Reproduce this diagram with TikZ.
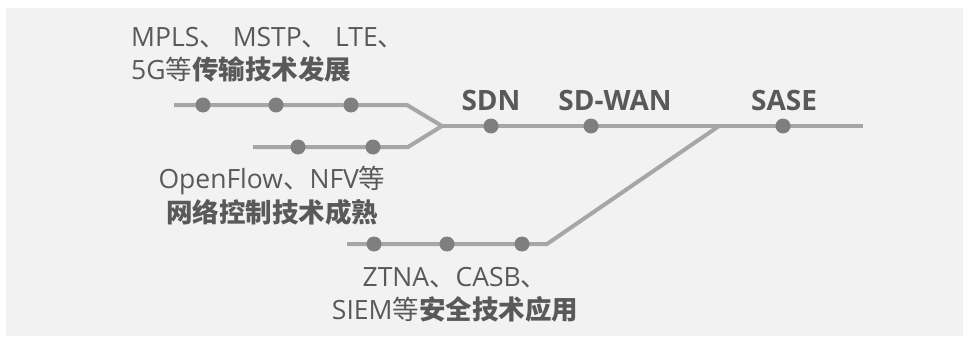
\documentclass[tikz,border=0pt]{standalone}
\usepackage{fontspec}
\setmainfont{Open Sans}
\newfontfamily\cjk{Noto Sans CJK SC}
\pgfdeclarelayer{back}
\pgfdeclarelayer{lines}
\pgfsetlayers{back,lines,main}
\definecolor{bgc}{HTML}{F2F2F2}
\definecolor{linec}{HTML}{A6A6A6}
\definecolor{dotc}{HTML}{7F7F7F}
\definecolor{txtc}{HTML}{595959}
\tikzset{
  dot/.style={circle,fill=dotc,draw=none,minimum size=15pt,inner sep=0pt},
  track/.style={draw=linec,line width=4pt,line join=miter},
  lbl/.style={text=txtc,inner sep=0pt,font=\fontsize{26.5}{33.5}\selectfont},
  stage/.style={text=txtc,inner sep=0pt,font=\fontsize{28}{30}\selectfont\bfseries},
}
\begin{document}
\begin{tikzpicture}[x=1pt,y=-1pt]
\useasboundingbox (0,0) rectangle (963,337);
\begin{pgfonlayer}{back}
\fill[bgc] (6,8) rectangle (963,336);
\end{pgfonlayer}
% coordinates
\coordinate (t0) at (174,105);
\coordinate (tb) at (407,105);
\coordinate (j1) at (442,126);
\coordinate (u0) at (253,147);
\coordinate (ub) at (408,147);
\coordinate (j2) at (719,126);
\coordinate (e) at (863,126);
\coordinate (w0) at (347,244);
\coordinate (wb) at (547,244);
% dots
\node[dot] (a1) at (203,105) {};
\node[dot] (a2) at (276,105) {};
\node[dot] (a3) at (351,105) {};
\node[dot] (b1) at (298,147) {};
\node[dot] (b2) at (373,147) {};
\node[dot] (sdn) at (491,126) {};
\node[dot] (sdwan) at (591,126) {};
\node[dot] (sase) at (783,126) {};
\node[dot] (c1) at (374,244) {};
\node[dot] (c2) at (447,244) {};
\node[dot] (c3) at (522,244) {};
% tracks
\begin{pgfonlayer}{lines}
\draw[track] (t0) -- (a1.center) -- (a2.center) -- (a3.center) -- (tb) -- (j1);
\draw[track] (u0) -- (b1.center) -- (b2.center) -- (ub) -- (j1);
\draw[track] (j1) -- (sdn.center) -- (sdwan.center) -- (j2) -- (sase.center) -- (e);
\draw[track] (w0) -- (c1.center) -- (c2.center) -- (c3.center) -- (wb) -- (j2);
\end{pgfonlayer}
% labels
\node[stage] (lsdn) at (491,100) {SDN};
\node[stage] (lsdwan) at (615,100) {SD-WAN};
\node[stage] (lsase) at (784,100) {SASE};
\node[lbl,align=left,anchor=west] (ltop) at (131,55) {MPLS{\cjk 、} MSTP{\cjk 、} LTE{\cjk 、}\\5G{\cjk 等}\textbf{\cjk 传输技术发展}};
\node[lbl,align=center] (lmid) at (272,196) {OpenFlow{\cjk 、}NFV{\cjk 等}\\\textbf{\cjk 网络控制技术成熟}};
\node[lbl,align=center] (lbot) at (455,295) {ZTNA{\cjk 、}CASB{\cjk 、}\\SIEM{\cjk 等}\textbf{\cjk 安全技术应用}};
\end{tikzpicture}
\end{document}
